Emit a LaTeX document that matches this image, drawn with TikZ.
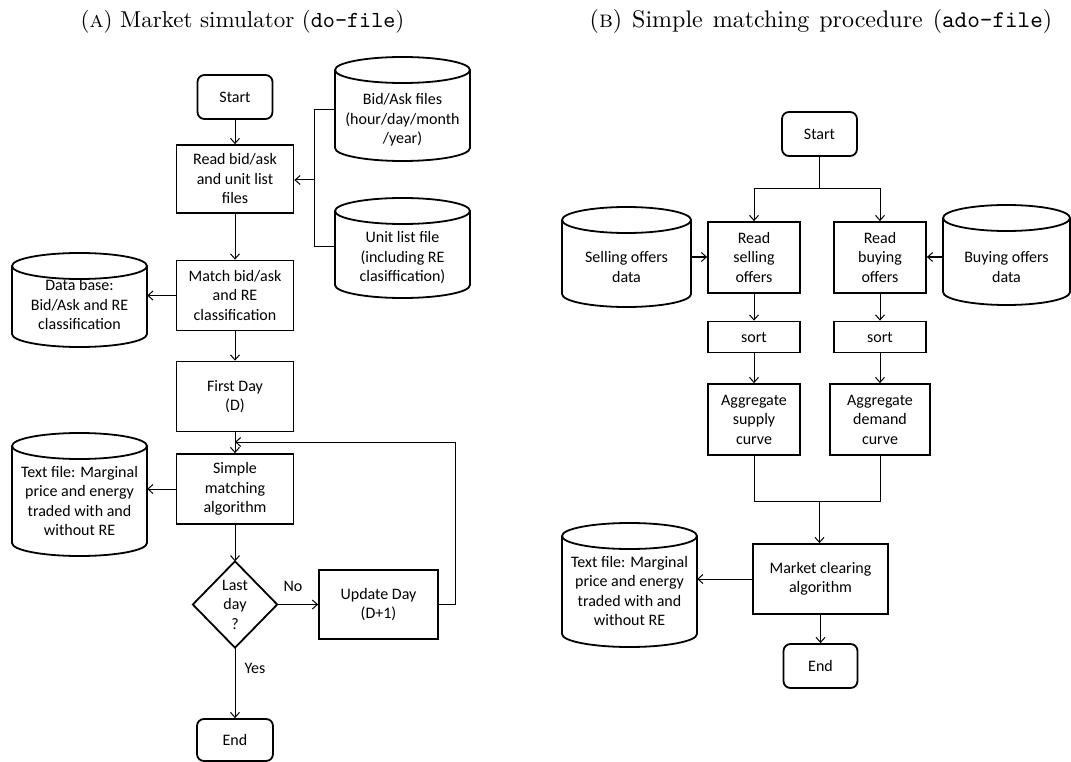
\documentclass[tikz,border=0pt]{standalone}
\usepackage{fontspec}
\usepackage{graphicx}
\newfontfamily\boxfont{Carlito}
\usetikzlibrary{arrows.meta}

% vertical radius of the cylinder end ellipses
\def\cylry{13}

% data-store cylinder: name, centre x, top y, bottom y, width, text centre y, text
\newcommand\drum[7]{%
  \node[drumtext, minimum width=#5] (#1) at (#2,#6) {#7};
  \draw[shell] (#2-#5/2,#3+\cylry) -- (#2-#5/2,#4-\cylry)
     arc[start angle=180, end angle=0, x radius=#5/2, y radius=\cylry]
     -- (#2+#5/2,#3+\cylry);
  \draw[shell] (#2,#3+\cylry) ellipse[x radius=#5/2, y radius=\cylry];
}

% sub-caption set at 10pt and enlarged
\newcommand\subcap[2]{\scalebox{#1}{\fontsize{10}{12}\selectfont #2}}

\begin{document}
\begin{tikzpicture}[x=1pt, y=-1pt,
  txt/.style={font=\boxfont\fontsize{16}{19.5}\selectfont, align=center, inner sep=0pt},
  proc/.style={txt, draw, line width=1.8pt},
  term/.style={proc, rounded corners=7pt},
  drumtext/.style={txt},
  shell/.style={line width=1.8pt},
  link/.style={line width=1pt},
  arr/.style={link, -{Straight Barb[length=5pt, width=9pt]}},
  lbl/.style={txt},
  captext/.style={inner sep=0pt}]
\useasboundingbox (0,0) rectangle (1071,762);

% ---------- captions ----------
\node[captext] (capA) at (242.5,22) {\subcap{2.3}{(\textsc{a}) Market simulator (\texttt{do-file})}};
\node[captext] (capB) at (821,22) {\subcap{2.4}{(\textsc{b})\hspace{0.8pt} Simple\hspace{0.8pt} matching\hspace{0.8pt} procedure\hspace{0.8pt} (\texttt{ado-file})}};

% ---------- (a) market simulator ----------
\node[term, minimum width=75, minimum height=44] (startA) at (235,97) {Start};
\node[proc, minimum width=117, minimum height=68] (readA) at (235,179) {Read bid/ask\\and unit list\\files};
\node[proc, minimum width=117, minimum height=70] (matchA) at (235,295.5) {Match bid/ask\\and RE\\classification};
\node[proc, minimum width=117, minimum height=70] (firstA) at (235,396.5) {First Day\\(D)};
\node[proc, minimum width=117, minimum height=70] (simA) at (235,489) {Simple\\matching\\algorithm};
\node[txt, minimum width=84, minimum height=86] (lastA) at (235,604.5) {Last\\day\\?};
\draw[shell] (lastA.north) -- (lastA.east) -- (lastA.south) -- (lastA.west) -- cycle;
\node[proc, minimum width=119, minimum height=69] (updA) at (378.5,604.5) {Update Day\\(D+1)};
\node[term, minimum width=76, minimum height=42] (endA) at (235,740) {End};

\drum{bidA}{402.5}{57}{161}{135}{120}{Bid/Ask files\\(hour/day/month\\/year)}
\drum{unitA}{402.5}{198}{298}{135}{258}{Unit list file\\(including RE\\clasiffication)}
\drum{dbA}{79.5}{253}{347}{135}{305}{Data base:\\Bid/Ask and RE\\classification}
\drum{txtA}{79.5}{433}{556}{135}{501}{Text file: Marginal\\price and energy\\traded with and\\without RE}

\coordinate (jA) at (314,180);
\coordinate (loopA) at (235,442);
\draw[arr] (startA) -- (readA);
\draw[link] ([yshift=10pt]bidA.west) -| (jA);
\draw[link] ([yshift=11pt]unitA.west) -| (jA);
\draw[arr] (jA) -- (jA -| readA.east);
\draw[arr] (readA) -- (matchA);
\draw[arr] (matchA.west) -- (matchA.west -| dbA.east);
\draw[arr] (matchA) -- (firstA);
\draw[arr] (firstA) -- (simA);
\draw[arr] (simA.west) -- (simA.west -| txtA.east);
\draw[arr] (simA) -- (lastA.north);
\draw[arr] (lastA.east) -- (updA.west);
\draw[arr] (updA.east) -- ++(17,0) |- (loopA);
\draw[arr] (lastA.south) -- (endA);
\node[lbl] (noA) at (293,586) {No};
\node[lbl] (yesA) at (255,668) {Yes};

% ---------- (b) simple matching procedure ----------
\node[term, minimum width=75, minimum height=44] (startB) at (819.5,134) {Start};
\node[proc, minimum width=92, minimum height=71] (rsell) at (754,257.5) {Read\\selling\\offers};
\node[proc, minimum width=92, minimum height=71] (rbuy) at (880,257.5) {Read\\buying\\offers};
\node[proc, minimum width=92, minimum height=31] (sortS) at (754,337) {sort};
\node[proc, minimum width=92, minimum height=31] (sortD) at (880,337) {sort};
\node[proc, minimum width=92, minimum height=71] (aggS) at (754,419.5) {Aggregate\\supply\\curve};
\node[proc, minimum width=100, minimum height=71] (aggD) at (880,419.5) {Aggregate\\demand\\curve};
\node[proc, minimum width=135, minimum height=70] (market) at (820.5,579) {Market clearing\\algorithm};
\node[term, minimum width=74, minimum height=44] (endB) at (820.5,666) {End};

\drum{sellB}{626.5}{207}{307}{129}{267}{Selling offers\\data}
\drum{buyB}{1006.5}{205}{305}{127}{267}{Buying offers\\data}
\drum{txtB}{629.5}{523}{647}{135}{591}{Text file: Marginal\\price and energy\\traded with and\\without RE}

\coordinate (brB) at (819.5,189);
\coordinate (mB) at (819.5,501.5);
\draw[link] (startB) -- (brB);
\draw[arr] (brB) -| (rsell);
\draw[arr] (brB) -| (rbuy);
\draw[arr] ([yshift=10pt]sellB.east) -- ([yshift=10pt]sellB.east -| rsell.west);
\draw[arr] ([yshift=10pt]buyB.west) -- ([yshift=10pt]buyB.west -| rbuy.east);
\draw[arr] (rsell) -- (sortS);
\draw[arr] (rbuy) -- (sortD);
\draw[arr] (sortS) -- (aggS);
\draw[arr] (sortD) -- (aggD);
\draw[link] (aggS) |- (mB);
\draw[link] (aggD) |- (mB);
\draw[arr] (mB) -- (mB |- market.north);
\draw[arr] (market.west) -- (market.west -| txtB.east);
\draw[arr] (market) -- (endB);
\end{tikzpicture}
\end{document}
